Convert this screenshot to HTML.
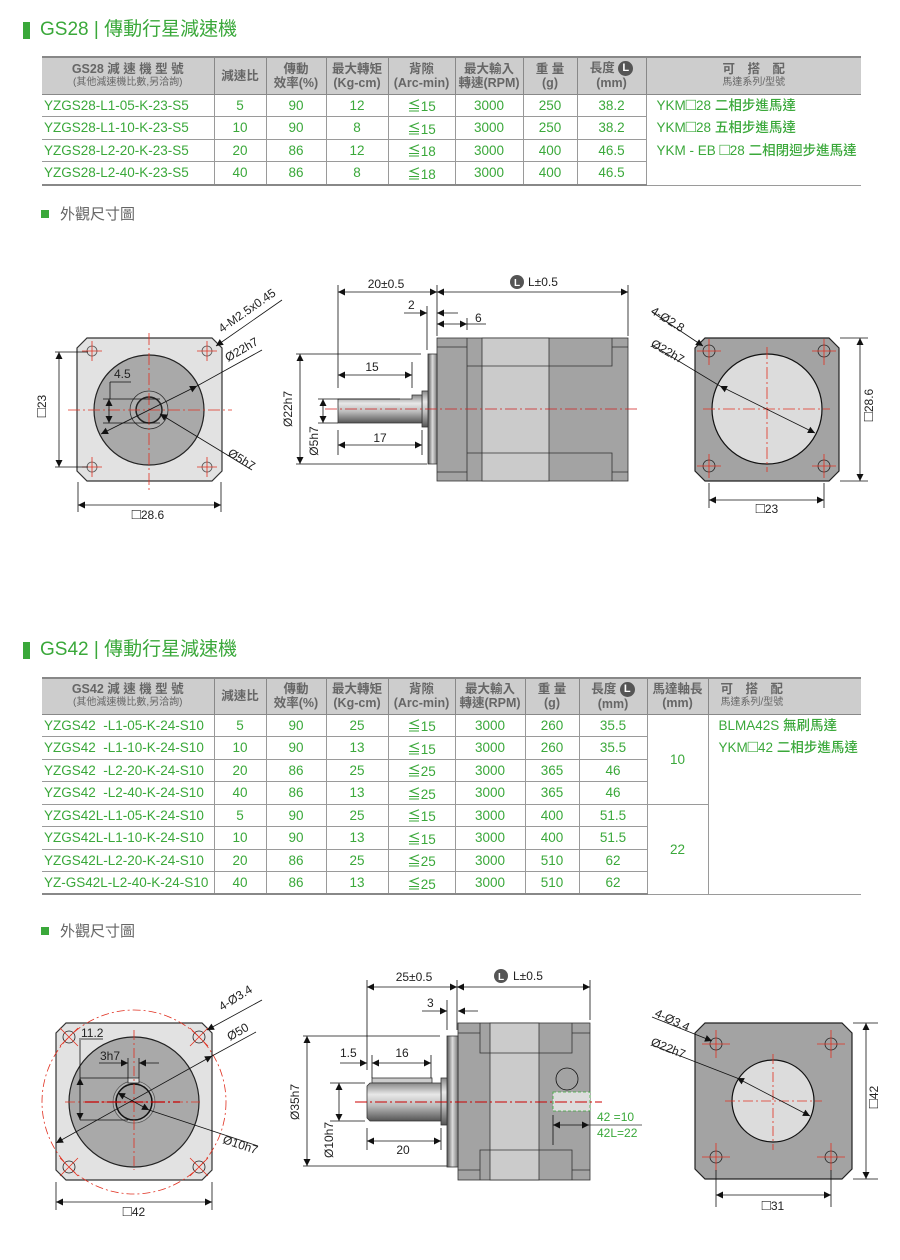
<!DOCTYPE html>
<html><head><meta charset="utf-8">
<style>
*{margin:0;padding:0;box-sizing:border-box}
body{width:900px;height:1260px;background:#fff;position:relative;overflow:hidden;font-family:"Liberation Sans","Noto Sans CJK TC",sans-serif}
.h{position:absolute;left:40px;font-size:19px;color:#3aa83a;line-height:20px}
.bar{position:absolute;left:23px;width:7px;height:17px;background:#3aa83a}
.sq{position:absolute;left:41px;width:8px;height:8px;background:#3aa83a}
.sub{position:absolute;left:60px;font-size:15px;color:#666;line-height:16px}
table{position:absolute;left:42px;border-collapse:collapse;table-layout:fixed;width:819px}
td,th{border:1px solid #9a9a9a;text-align:center;color:#3aa83a;font-size:13.5px;padding:0;white-space:nowrap;overflow:hidden;font-weight:500}
th{background:#cdcdcd;color:#666;font-weight:bold;font-size:12.5px;line-height:14px;border-color:#888}
th small{display:block;font-size:10px;font-weight:normal}
tr:first-child th{border-top:2px solid #888}
tr:last-child td{border-bottom:2px solid #888}
td:first-child,th:first-child{border-left:none}
th:last-child,td.lc{border-right:none}
td.m{text-align:left;padding-left:2px}
td.lc{text-align:left;vertical-align:top;padding-left:10px;line-height:22.5px}
.b{font-size:17px;line-height:10px}
.L{display:inline-block;width:15px;height:15px;border-radius:50%;background:#555;color:#fff;font-size:11px;line-height:15px;text-align:center;vertical-align:middle}
svg{position:absolute;left:0;top:0}
</style></head><body>

<div class="bar" style="top:22px"></div><div class="h" style="top:20px">GS28 | 傳動行星減速機</div>
<div class="bar" style="top:642px"></div><div class="h" style="top:640px">GS42 | 傳動行星減速機</div>
<div class="sq" style="top:210px"></div><div class="sub" style="top:207px">外觀尺寸圖</div>
<div class="sq" style="top:927px"></div><div class="sub" style="top:924px">外觀尺寸圖</div>

<table style="top:56px">
<colgroup><col style="width:172px"><col style="width:52px"><col style="width:60px"><col style="width:62px"><col style="width:67px"><col style="width:68px"><col style="width:54px"><col style="width:69px"><col style="width:215px"></colgroup>
<tr style="height:37px"><th>GS28 減 速 機 型 號<small>(其他減速機比數,另洽詢)</small></th><th>減速比</th><th>傳動<br>效率(%)</th><th>最大轉矩<br>(Kg-cm)</th><th>背隙<br>(Arc-min)</th><th>最大輸入<br>轉速(RPM)</th><th>重 量<br>(g)</th><th>長度 <span class="L">L</span><br>(mm)</th><th>可　搭　配<small>馬達系列/型號</small></th></tr>
<tr style="height:22px"><td class="m">YZGS28-L1-05-K-23-S5</td><td>5</td><td>90</td><td>12</td><td>≦15</td><td>3000</td><td>250</td><td>38.2</td><td class="lc" rowspan="4">YKM<span class="b">□</span>28 二相步進馬達<br>YKM<span class="b">□</span>28 五相步進馬達<br>YKM - EB <span class="b">□</span>28 二相閉迴步進馬達</td></tr>
<tr style="height:23px"><td class="m">YZGS28-L1-10-K-23-S5</td><td>10</td><td>90</td><td>8</td><td>≦15</td><td>3000</td><td>250</td><td>38.2</td></tr>
<tr style="height:22px"><td class="m">YZGS28-L2-20-K-23-S5</td><td>20</td><td>86</td><td>12</td><td>≦18</td><td>3000</td><td>400</td><td>46.5</td></tr>
<tr style="height:24px"><td class="m">YZGS28-L2-40-K-23-S5</td><td>40</td><td>86</td><td>8</td><td>≦18</td><td>3000</td><td>400</td><td>46.5</td></tr>
</table>

<table style="top:677px">
<colgroup><col style="width:172px"><col style="width:52px"><col style="width:60px"><col style="width:62px"><col style="width:67px"><col style="width:70px"><col style="width:54px"><col style="width:68px"><col style="width:61px"><col style="width:153px"></colgroup>
<tr style="height:36px"><th>GS42 減 速 機 型 號<small>(其他減速機比數,另洽詢)</small></th><th>減速比</th><th>傳動<br>效率(%)</th><th>最大轉矩<br>(Kg-cm)</th><th>背隙<br>(Arc-min)</th><th>最大輸入<br>轉速(RPM)</th><th>重 量<br>(g)</th><th>長度 <span class="L">L</span><br>(mm)</th><th>馬達軸長<br>(mm)</th><th style="text-align:left;padding-left:12px">可　搭　配<small>馬達系列/型號</small></th></tr>
<tr style="height:22.5px"><td class="m">YZGS42&nbsp; -L1-05-K-24-S10</td><td>5</td><td>90</td><td>25</td><td>≦15</td><td>3000</td><td>260</td><td>35.5</td><td rowspan="4">10</td><td class="lc" rowspan="8">BLMA42S 無刷馬達<br>YKM<span class="b">□</span>42 二相步進馬達</td></tr>
<tr style="height:22.5px"><td class="m">YZGS42&nbsp; -L1-10-K-24-S10</td><td>10</td><td>90</td><td>13</td><td>≦15</td><td>3000</td><td>260</td><td>35.5</td></tr>
<tr style="height:22.5px"><td class="m">YZGS42&nbsp; -L2-20-K-24-S10</td><td>20</td><td>86</td><td>25</td><td>≦25</td><td>3000</td><td>365</td><td>46</td></tr>
<tr style="height:22.5px"><td class="m">YZGS42&nbsp; -L2-40-K-24-S10</td><td>40</td><td>86</td><td>13</td><td>≦25</td><td>3000</td><td>365</td><td>46</td></tr>
<tr style="height:22.5px"><td class="m">YZGS42L-L1-05-K-24-S10</td><td>5</td><td>90</td><td>25</td><td>≦15</td><td>3000</td><td>400</td><td>51.5</td><td rowspan="4">22</td></tr>
<tr style="height:22.5px"><td class="m">YZGS42L-L1-10-K-24-S10</td><td>10</td><td>90</td><td>13</td><td>≦15</td><td>3000</td><td>400</td><td>51.5</td></tr>
<tr style="height:22.5px"><td class="m">YZGS42L-L2-20-K-24-S10</td><td>20</td><td>86</td><td>25</td><td>≦25</td><td>3000</td><td>510</td><td>62</td></tr>
<tr style="height:22.5px"><td class="m">YZ-GS42L-L2-40-K-24-S10</td><td>40</td><td>86</td><td>13</td><td>≦25</td><td>3000</td><td>510</td><td>62</td></tr>
</table>

<svg width="900" height="1260" viewBox="0 0 900 1260" font-family="Liberation Sans, sans-serif" font-size="12" fill="#222">
<defs>
<marker id="a" viewBox="0 0 10 10" refX="10" refY="5" markerWidth="9" markerHeight="7" markerUnits="userSpaceOnUse" orient="auto-start-reverse"><path d="M0,0L10,5L0,10z" fill="#111"/></marker>
<linearGradient id="sh" x1="0" y1="0" x2="0" y2="1"><stop offset="0" stop-color="#888"/><stop offset=".3" stop-color="#e8e8e8"/><stop offset=".6" stop-color="#bbb"/><stop offset="1" stop-color="#555"/></linearGradient>
<linearGradient id="fl" x1="0" y1="0" x2="1" y2="0"><stop offset="0" stop-color="#555"/><stop offset=".5" stop-color="#ddd"/><stop offset="1" stop-color="#777"/></linearGradient>
</defs>
<g stroke="#111" stroke-width="0.8" fill="none">

<path d="M87,338H212L222,348V471L212,481H87L77,471V348Z" fill="#e2e2e2" stroke="#333" stroke-width="1.2"/>
<circle cx="149" cy="410" r="55" fill="#a9a9a9" stroke="#222" stroke-width="1.2"/>
<circle cx="149" cy="410" r="19" fill="#b0b0b0" stroke="#333"/>
<circle cx="149" cy="410" r="13" fill="#9e9e9e" stroke="#222" stroke-width="1.5"/>
<g fill="#ddd" stroke="#555"><circle cx="92" cy="351" r="5"/><circle cx="207" cy="351" r="5"/><circle cx="92" cy="467" r="5"/><circle cx="207" cy="467" r="5"/></g>
<g stroke="#e03020" stroke-width="0.8"><path d="M82,351H102M92,341V361M197,351H217M207,341V361M82,467H102M92,457V477M197,467H217M207,457V477"/>
<path d="M68,410H232M149,333V492" stroke-dasharray="12,3,2,3"/></g>
<path d="M55,352H88M55,467H88"/><path d="M59,352V467" marker-start="url(#a)" marker-end="url(#a)"/>
<path d="M78,482V512M221,482V512"/><path d="M78,505H221" marker-start="url(#a)" marker-end="url(#a)"/>
<path d="M110,382H131M110,382V399M103,399H160M103,423H160"/><path d="M109,399V423" marker-start="url(#a)" marker-end="url(#a)"/>
<path d="M216,346L282,300" marker-start="url(#a)"/>
<path d="M101,434L197,386" marker-start="url(#a)" marker-end="url(#a)"/><path d="M197,386L262,350"/>
<path d="M160,414L252,470" marker-start="url(#a)"/>

<rect x="437" y="338" width="191" height="143" fill="#a3a3a3" stroke="#333"/>
<rect x="482" y="338" width="67" height="143" fill="#cbcbcb" stroke="#333"/>
<path d="M437,347H467V366H612V347H628M437,472H467V453H612V472H628M467,338V481M612,338V366M612,453V481" stroke="#333"/>
<rect x="428" y="354" width="9" height="110" fill="url(#fl)" stroke="#333"/>
<rect x="422" y="391" width="6" height="36" fill="url(#sh)" stroke="#333"/>
<path d="M338,399H412V395H422V423H338Z" fill="url(#sh)" stroke="#333"/>
<path d="M325,409H640" stroke="#d02020" stroke-dasharray="12,3,2,3"/>
<path d="M338,285V388M437,285V336M628,285V336M427,306V350"/>
<path d="M338,292H437" marker-start="url(#a)" marker-end="url(#a)"/><path d="M437,292H628" marker-start="url(#a)" marker-end="url(#a)"/>
<path d="M404,313H427" marker-end="url(#a)"/><path d="M458,313H437" marker-end="url(#a)"/>
<path d="M437,324H467" marker-start="url(#a)" marker-end="url(#a)"/><path d="M467,324H486M467,318V330"/>
<path d="M412,362V388"/><path d="M338,375H412" marker-start="url(#a)" marker-end="url(#a)"/>
<path d="M338,430V455M422,430V455"/><path d="M338,445H422" marker-start="url(#a)" marker-end="url(#a)"/>
<path d="M296,354H421M296,464H427"/><path d="M300,354V464" marker-start="url(#a)" marker-end="url(#a)"/>
<path d="M318,399H400M318,423H338"/><path d="M323,399V423" marker-start="url(#a)" marker-end="url(#a)"/>

<path d="M705,338H829L839,348V471L829,481H705L695,471V348Z" fill="#a3a3a3" stroke="#222" stroke-width="1.2"/>
<circle cx="767" cy="409" r="55" fill="#dcdcdc" stroke="#111" stroke-width="1.2"/>
<g stroke="#222"><circle cx="709" cy="351" r="6"/><circle cx="824" cy="351" r="6"/><circle cx="709" cy="466" r="6"/><circle cx="824" cy="466" r="6"/></g>
<g stroke="#e03020"><path d="M697,351H721M709,339V365M812,351H836M824,339V365M697,466H721M709,454V478M812,466H836M824,454V478"/>
<path d="M703,409H830M767,347V472" stroke-dasharray="12,3,2,3"/></g>
<path d="M652,312L703,346" marker-end="url(#a)"/>
<path d="M652,345L720,386"/><path d="M720,386L815,433" marker-start="url(#a)" marker-end="url(#a)"/>
<path d="M840,338H868M840,481H868"/><path d="M860,338V481" marker-start="url(#a)" marker-end="url(#a)"/>
<path d="M709,483V508M824,483V508"/><path d="M709,500H824" marker-start="url(#a)" marker-end="url(#a)"/>

<path d="M66,1023H202L212,1033V1170L202,1180H66L56,1170V1033Z" fill="#e2e2e2" stroke="#333" stroke-width="1.2"/>
<circle cx="134" cy="1102" r="92" stroke="#e03020" stroke-dasharray="8,3,2,3"/>
<circle cx="134" cy="1102" r="65" fill="#a9a9a9" stroke="#222" stroke-width="1.2"/>
<circle cx="134" cy="1102" r="21" fill="#b5b5b5" stroke="#555"/>
<circle cx="134" cy="1102" r="18" fill="#a0a0a0" stroke="#111" stroke-width="1.5"/>
<rect x="128" y="1078" width="11" height="5" fill="#ddd" stroke="#222"/>
<g stroke="#222"><circle cx="69" cy="1037" r="6"/><circle cx="199" cy="1037" r="6"/><circle cx="69" cy="1167" r="6"/><circle cx="199" cy="1167" r="6"/></g>
<g stroke="#e03020"><path d="M60,1028L78,1046M78,1028L60,1046M190,1028L208,1046M208,1028L190,1046M60,1158L78,1176M78,1158L60,1176M190,1158L208,1176M208,1158L190,1176"/>
<path d="M65,1102H200M134,1030V1170" stroke-dasharray="10,3,2,3"/><path d="M85,1102H180" stroke="#c00" stroke-width="1.2" stroke-dasharray="14,3,2,3"/></g>
<path d="M79,1039H103M80,1040V1078M80,1078H128M80,1120H128M128,1058V1078M139,1058V1078"/>
<path d="M80,1078V1120" marker-start="url(#a)" marker-end="url(#a)"/>
<path d="M99,1063H128" marker-end="url(#a)"/><path d="M159,1063H139" marker-end="url(#a)"/>
<path d="M207,1030L262,1000" marker-start="url(#a)"/>
<path d="M56,1143L212,1056" marker-start="url(#a)" marker-end="url(#a)"/><path d="M212,1056L256,1032"/>
<path d="M118,1093L149,1110" marker-start="url(#a)" marker-end="url(#a)"/><path d="M149,1110L258,1146"/>
<path d="M56,1182V1210M212,1182V1210"/><path d="M56,1202H212" marker-start="url(#a)" marker-end="url(#a)"/>

<rect x="458" y="1023" width="132" height="157" fill="#a3a3a3" stroke="#333"/>
<rect x="490" y="1023" width="49" height="157" fill="#cbcbcb" stroke="#333"/>
<path d="M458,1033H480V1053H539M539,1053H572V1033H590M458,1170H480V1150H572V1170H590M480,1023V1053M480,1150V1180M572,1023V1053M572,1150V1180" stroke="#333"/>
<circle cx="567" cy="1079" r="11" stroke="#111"/>
<rect x="553" y="1092" width="37" height="19" fill="#dcdcdc" stroke="#3aa83a" stroke-dasharray="3,2"/>
<rect x="447" y="1036" width="11" height="131" fill="url(#fl)" stroke="#333"/>
<rect x="441" y="1078" width="6" height="47" fill="url(#sh)" stroke="#333"/>
<rect x="372" y="1078" width="60" height="5" fill="#ccc" stroke="#333"/>
<path d="M370,1083H441V1121H370L367,1118V1086Z" fill="url(#sh)" stroke="#333"/>
<path d="M355,1102H602" stroke="#c00" stroke-width="1.1" stroke-dasharray="12,3,2,3"/>
<path d="M367,980V1070M457,980V1030M590,980V1020M447,1000V1030"/>
<path d="M367,987H457" marker-start="url(#a)" marker-end="url(#a)"/><path d="M457,987H590" marker-start="url(#a)" marker-end="url(#a)"/>
<path d="M422,1011H447" marker-end="url(#a)"/><path d="M478,1011H458" marker-end="url(#a)"/>
<path d="M340,1063H367" marker-end="url(#a)"/><path d="M372,1063H431" marker-start="url(#a)" marker-end="url(#a)"/><path d="M372,1055V1078M431,1055V1078"/>
<path d="M367,1128V1150M441,1128V1150"/><path d="M367,1141H441" marker-start="url(#a)" marker-end="url(#a)"/>
<path d="M303,1036H440M303,1166H447"/><path d="M307,1036V1166" marker-start="url(#a)" marker-end="url(#a)"/>
<path d="M330,1083H365M330,1121H365"/><path d="M339,1083V1121" marker-start="url(#a)" marker-end="url(#a)"/>
<path d="M553,1115V1145"/><path d="M553,1125H589" marker-start="url(#a)" marker-end="url(#a)"/><path d="M589,1125H642" stroke="#333"/>

<path d="M705,1023H842L852,1033V1169L842,1179H705L695,1169V1033Z" fill="#a3a3a3" stroke="#222" stroke-width="1.2"/>
<circle cx="773" cy="1101" r="41" fill="#dcdcdc" stroke="#111" stroke-width="1.2"/>
<g stroke="#222"><circle cx="716" cy="1044" r="6"/><circle cx="831" cy="1044" r="6"/><circle cx="716" cy="1157" r="6"/><circle cx="831" cy="1157" r="6"/></g>
<g stroke="#e03020"><path d="M702,1044H730M716,1030V1058M817,1044H845M831,1030V1058M702,1157H730M716,1143V1171M817,1157H845M831,1143V1171"/>
<path d="M725,1101H822M773,1054V1150" stroke-dasharray="10,3,2,3"/></g>
<path d="M652,1017L712,1041" marker-end="url(#a)"/>
<path d="M652,1045L737,1078"/><path d="M737,1078L810,1116" marker-start="url(#a)" marker-end="url(#a)"/>
<path d="M853,1023H878M853,1179H878"/><path d="M866,1023V1179" marker-start="url(#a)" marker-end="url(#a)"/>
<path d="M716,1170V1207M831,1170V1207"/><path d="M716,1195H831" marker-start="url(#a)" marker-end="url(#a)"/>
</g>

<g fill="#222" font-size="12">
<text x="50" y="410" text-anchor="middle" transform="rotate(-90 46 410)"><tspan font-size="15">□</tspan>23</text>
<text x="148" y="519" text-anchor="middle"><tspan font-size="15">□</tspan>28.6</text>
<text x="114" y="378">4.5</text>
<text x="222" y="333" transform="rotate(-35 222 333)">4-M2.5x0.45</text>
<text x="228" y="362" transform="rotate(-30 228 362)">Ø22h7</text>
<text x="227" y="455" transform="rotate(32 227 455)">Ø5h7</text>

<text x="386" y="288" text-anchor="middle">20±0.5</text>
<circle cx="517" cy="282" r="7" fill="#555"/><text x="517" y="286" fill="#fff" font-size="10" font-weight="bold" text-anchor="middle">L</text>
<text x="528" y="286">L±0.5</text>
<text x="408" y="309">2</text><text x="475" y="322">6</text>
<text x="372" y="371" text-anchor="middle">15</text><text x="380" y="442" text-anchor="middle">17</text>
<text x="292" y="409" text-anchor="middle" transform="rotate(-90 292 409)">Ø22h7</text>
<text x="318" y="441" text-anchor="middle" transform="rotate(-90 318 441)">Ø5h7</text>

<text x="650" y="313" transform="rotate(32 650 313)">4-Ø2.8</text>
<text x="650" y="346" transform="rotate(30 650 346)">Ø22h7</text>
<text x="877" y="409" text-anchor="middle" transform="rotate(-90 873 409)"><tspan font-size="15">□</tspan>28.6</text>
<text x="767" y="513" text-anchor="middle"><tspan font-size="15">□</tspan>23</text>

<text x="81" y="1037">11.2</text><text x="100" y="1060">3h7</text>
<text x="222" y="1011" transform="rotate(-32 222 1011)">4-Ø3.4</text>
<text x="230" y="1041" transform="rotate(-30 230 1041)">Ø50</text>
<text x="222" y="1143" transform="rotate(18 222 1143)">Ø10h7</text>
<text x="134" y="1216" text-anchor="middle"><tspan font-size="15">□</tspan>42</text>

<text x="414" y="981" text-anchor="middle">25±0.5</text>
<circle cx="501" cy="976" r="7" fill="#555"/><text x="501" y="980" fill="#fff" font-size="10" font-weight="bold" text-anchor="middle">L</text>
<text x="513" y="980">L±0.5</text>
<text x="427" y="1007">3</text>
<text x="340" y="1057">1.5</text><text x="402" y="1057" text-anchor="middle">16</text>
<text x="403" y="1154" text-anchor="middle">20</text>
<text x="299" y="1102" text-anchor="middle" transform="rotate(-90 299 1102)">Ø35h7</text>
<text x="333" y="1140" text-anchor="middle" transform="rotate(-90 333 1140)">Ø10h7</text>
<text x="597" y="1121" fill="#3aa83a">42 =10</text><text x="597" y="1137" fill="#3aa83a">42L=22</text>

<text x="654" y="1016" transform="rotate(25 654 1016)">4-Ø3.4</text>
<text x="650" y="1045" transform="rotate(22 650 1045)">Ø22h7</text>
<text x="882" y="1101" text-anchor="middle" transform="rotate(-90 878 1101)"><tspan font-size="15">□</tspan>42</text>
<text x="773" y="1210" text-anchor="middle"><tspan font-size="15">□</tspan>31</text>
</g>
</svg>
</body></html>
